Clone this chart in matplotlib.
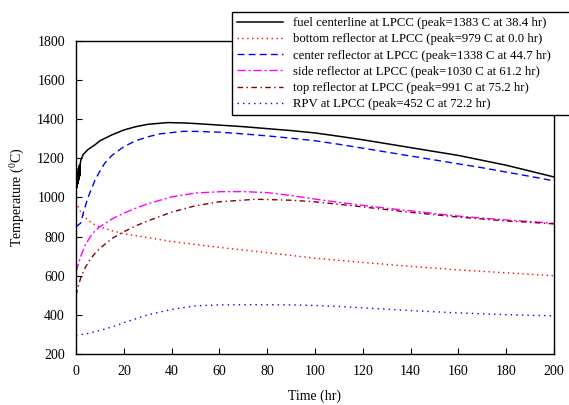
import matplotlib
matplotlib.use("Agg")
import matplotlib.pyplot as plt

plt.rcParams['font.family'] = ['Liberation Serif', 'DejaVu Serif']
plt.rcParams['mathtext.fontset'] = 'custom'
plt.rcParams['mathtext.rm'] = 'Liberation Serif'

# fuel centerline
fuel_t = [0, 0.2, 0.4, 0.6, 0.8, 1.0, 1.2, 1.4, 1.6, 1.8, 2.0, 2.5, 3, 5, 8, 10, 15, 20, 25, 30, 38.4, 45, 50,
          60, 70, 80, 90, 100, 110, 120, 130, 140, 150, 160, 170, 180, 190, 200]
fuel_T = [1030, 1110, 1050, 1130, 1070, 1150, 1090, 1165, 1110, 1175, 1190, 1205, 1220, 1245, 1270, 1290, 1320,
          1345, 1362, 1374, 1383, 1381, 1378, 1370, 1362, 1352, 1342, 1330, 1313, 1295, 1275, 1255, 1235, 1215,
          1190, 1165, 1135, 1105]

# bottom reflector
bot_t = [0, 1, 2, 4, 6, 8, 10, 15, 20, 30, 40, 50, 60, 80, 100, 120, 140, 160, 180, 200]
bot_T = [979, 950, 925, 895, 875, 860, 850, 830, 815, 795, 775, 760, 745, 718, 690, 668, 648, 630, 615, 600]

# center reflector
cen_t = [0, 2, 3, 5, 8, 10, 12, 15, 20, 25, 30, 35, 44.7, 50, 60, 70, 80, 90, 100, 110, 120, 130, 140,
         150, 160, 170, 180, 190, 200]
cen_T = [850, 870, 920, 1000, 1090, 1135, 1175, 1215, 1260, 1290, 1310, 1325, 1338, 1338, 1334, 1325, 1315,
         1303, 1290, 1272, 1252, 1232, 1212, 1192, 1172, 1152, 1130, 1108, 1085]

# side reflector
side_t = [0, 2, 4, 6, 8, 10, 15, 20, 25, 30, 40, 50, 61.2, 70, 80, 90, 100, 110, 120, 130, 140, 150,
          160, 170, 180, 190, 200]
side_T = [620, 700, 760, 800, 830, 850, 890, 920, 945, 968, 1003, 1023, 1030, 1030, 1025, 1010, 992, 975,
          960, 945, 932, 918, 905, 895, 885, 877, 868]

# top reflector
top_t = [0, 1, 2, 4, 6, 8, 10, 15, 20, 25, 30, 40, 50, 60, 75.2, 90, 100, 110, 120, 130, 140, 150, 160,
         170, 180, 190, 200]
top_T = [500, 550, 590, 645, 685, 715, 740, 790, 825, 855, 880, 925, 958, 978, 991, 986, 978, 965, 952,
         938, 924, 912, 900, 890, 880, 873, 865]

# RPV
rpv_t = [0, 5, 10, 15, 20, 25, 30, 40, 50, 60, 72.2, 80, 90, 100, 110, 120, 140, 160, 180, 200]
rpv_T = [295, 305, 320, 338, 360, 380, 400, 428, 446, 451, 452, 452, 451, 448, 443, 436, 422, 410, 401, 395]

labels = [
    'fuel centerline at LPCC (peak=1383 C at 38.4 hr)',
    'bottom reflector at LPCC (peak=979 C at 0.0 hr)',
    'center reflector at LPCC (peak=1338 C at 44.7 hr)',
    'side reflector at LPCC (peak=1030 C at 61.2 hr)',
    'top reflector at LPCC (peak=991 C at 75.2 hr)',
    'RPV at LPCC (peak=452 C at 72.2 hr)',
]

fig = plt.figure(figsize=(5.69, 4.05), dpi=100)
ax = fig.add_axes([0.1336, 0.1259, 0.84, 0.7729])

ax.plot(fuel_t, fuel_T, color='black', lw=1.1, label=labels[0])
ax.plot(bot_t, bot_T, color='red', lw=1.0, linestyle=(0, (1, 2.5)), label=labels[1])
ax.plot(cen_t, cen_T, color='blue', lw=1.0, linestyle=(0, (5, 3)), label=labels[2])
ax.plot(side_t, side_T, color='magenta', lw=1.0, linestyle=(0, (6, 2, 1.5, 2)), label=labels[3])
ax.plot(top_t, top_T, color='#800000', lw=1.0, linestyle=(0, (4, 2.5, 1, 2.5)), label=labels[4])
ax.plot(rpv_t, rpv_T, color='blue', lw=1.0, linestyle=(0, (1, 3)), label=labels[5])

ax.set_xlim(0, 200)
ax.set_ylim(200, 1800)
ax.set_xticks(range(0, 201, 20))
ax.set_yticks(range(200, 1801, 200))
ax.tick_params(direction='in', length=4, labelsize=10, pad=8)
for s in ax.spines.values():
    s.set_linewidth(1.0)

ax.set_xlabel('Time (hr)', fontsize=10, labelpad=8)
ax.set_ylabel(r'Temperature ($^{\mathrm{0}}$C)', fontsize=10, labelpad=8)

leg = fig.legend(loc='upper left', bbox_to_anchor=(232 / 569, 1 - 113 / 405, 0.62, 101 / 405),
                 mode='expand', borderaxespad=0, fontsize=9.2, frameon=True, fancybox=False,
                 edgecolor='black', framealpha=1, handlelength=3.6, handletextpad=0.8,
                 labelspacing=0.33, borderpad=0.4)
leg.get_frame().set_linewidth(1.0)

fig.savefig('out.png', dpi=100)
